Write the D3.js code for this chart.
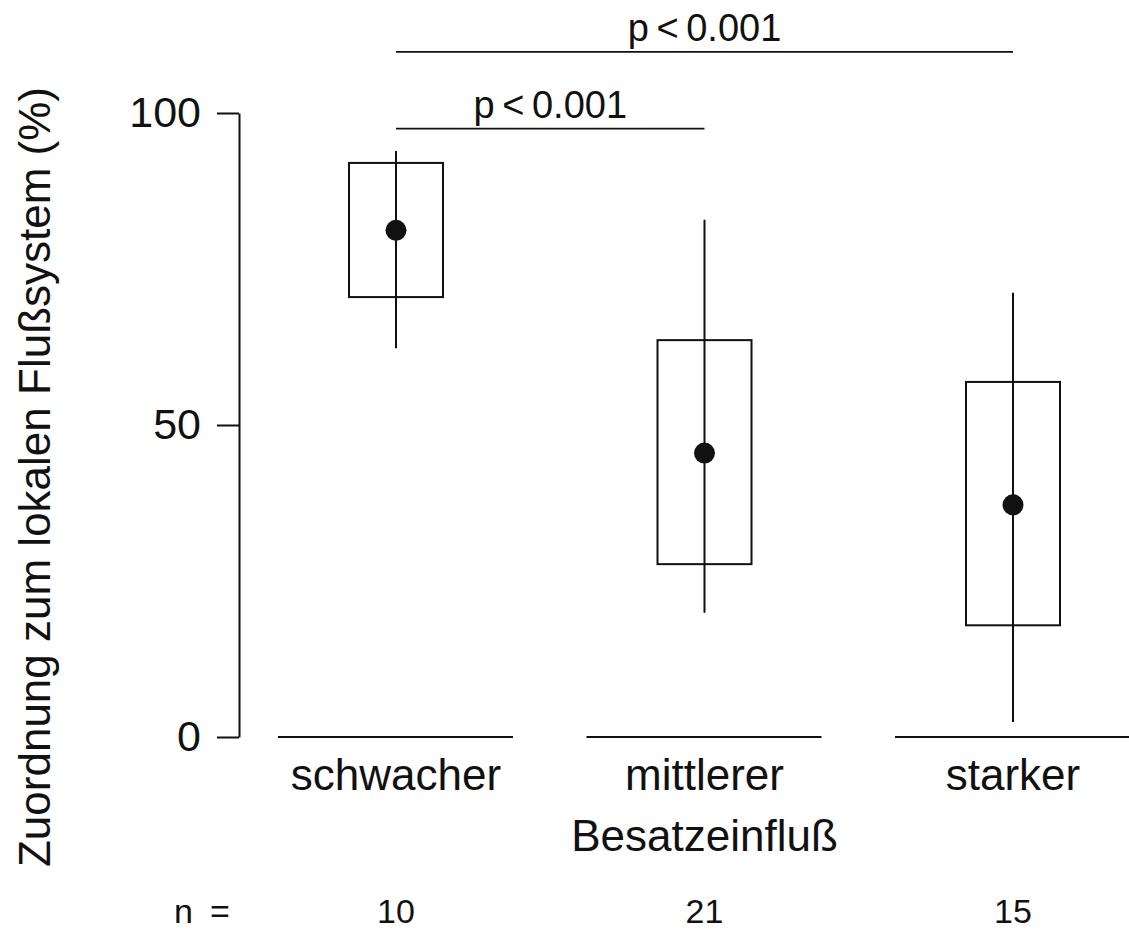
<!DOCTYPE html>
<html lang="de">
<head>
    <meta charset="UTF-8">
    <title>Zuordnung zum lokalen Flußsystem</title>
    <script src="https://d3js.org/d3.v7.min.js"></script>
    <style>
        body { margin: 0; background: #fff; }
        svg text { font-family: "Liberation Sans", Arial, sans-serif; fill: #111; }
    </style>
</head>
<body>
    <svg width="1129" height="929"></svg>

    <script>
        // Data
        const categories = ["schwacher", "mittlerer", "starker"];
        const nValues = [10, 21, 15];
        const means = [81.2, 45.5, 37.2];
        const boxLow = [70.5, 27.7, 17.9];
        const boxHigh = [92.0, 63.6, 56.9];
        const whiskerLow = [62.3, 19.9, 2.4];
        const whiskerHigh = [93.9, 82.9, 71.2];
        const yTicks = [0, 50, 100];
        // significance brackets: [from, to, level, label]
        const brackets = [
            ["schwacher", "mittlerer", 97.5, "p\u2009<\u20090.001"],
            ["schwacher", "starker", 109.8, "p\u2009<\u20090.001"]
        ];

        const svg = d3.select("svg");

        const x = d3.scalePoint()
            .domain(categories)
            .range([396, 1013]);

        const y = d3.scaleLinear()
            .domain([0, 100])
            .range([737, 113]);

        const axisX = 239;
        const ink = "#111";

        // y axis
        const yAxis = svg.append("g")
            .attr("transform", `translate(${axisX},0)`)
            .call(d3.axisLeft(y).tickValues(yTicks).tickSize(22).tickPadding(16).tickSizeOuter(0));
        yAxis.select(".domain").attr("stroke", ink).attr("stroke-width", 2);
        yAxis.selectAll(".tick line").attr("stroke", ink).attr("stroke-width", 2);
        yAxis.selectAll(".tick text")
            .style("font-size", "43px")
            .style("font-family", "Liberation Sans, Arial, sans-serif")
            .attr("fill", ink);

        // y axis label
        svg.append("text")
            .attr("transform", `translate(50,477) rotate(-90)`)
            .attr("text-anchor", "middle")
            .style("font-size", "44px")
            .text("Zuordnung zum lokalen Flußsystem (%)");

        const data = categories.map((c, i) => ({
            cat: c, n: nValues[i], mean: means[i],
            lo: boxLow[i], hi: boxHigh[i], wlo: whiskerLow[i], whi: whiskerHigh[i]
        }));

        // baseline segments under each group
        svg.selectAll(".base")
            .data(data)
            .enter().append("line")
            .attr("x1", d => x(d.cat) - 118)
            .attr("x2", d => x(d.cat) + 117)
            .attr("y1", y(0)).attr("y2", y(0))
            .attr("stroke", ink).attr("stroke-width", 2);

        // whiskers
        svg.selectAll(".whisker")
            .data(data)
            .enter().append("line")
            .attr("x1", d => x(d.cat)).attr("x2", d => x(d.cat))
            .attr("y1", d => y(d.whi)).attr("y2", d => y(d.wlo))
            .attr("stroke", ink).attr("stroke-width", 2);

        // boxes
        svg.selectAll(".box")
            .data(data)
            .enter().append("rect")
            .attr("x", d => x(d.cat) - 47)
            .attr("width", 94)
            .attr("y", d => y(d.hi))
            .attr("height", d => y(d.lo) - y(d.hi))
            .attr("fill", "none")
            .attr("stroke", ink).attr("stroke-width", 2);

        // mean dots
        svg.selectAll(".dot")
            .data(data)
            .enter().append("circle")
            .attr("cx", d => x(d.cat))
            .attr("cy", d => y(d.mean))
            .attr("r", 10.5)
            .attr("fill", ink);

        // category labels
        svg.selectAll(".cat")
            .data(data)
            .enter().append("text")
            .attr("x", d => x(d.cat))
            .attr("y", 790)
            .attr("text-anchor", "middle")
            .style("font-size", "44px")
            .text(d => d.cat);

        // x axis title
        svg.append("text")
            .attr("x", x("mittlerer"))
            .attr("y", 851)
            .attr("text-anchor", "middle")
            .style("font-size", "44px")
            .text("Besatzeinfluß");

        // sample sizes
        svg.append("text")
            .attr("x", 202)
            .attr("y", 923)
            .attr("text-anchor", "middle")
            .style("font-size", "34px")
            .text("n\u2002=");
        svg.selectAll(".n")
            .data(data)
            .enter().append("text")
            .attr("x", d => x(d.cat))
            .attr("y", 923)
            .attr("text-anchor", "middle")
            .style("font-size", "34px")
            .text(d => d.n);

        // significance brackets
        brackets.forEach(([a, b, lvl, label]) => {
            svg.append("line")
                .attr("x1", x(a)).attr("x2", x(b))
                .attr("y1", y(lvl)).attr("y2", y(lvl))
                .attr("stroke", ink).attr("stroke-width", 1.6);
            svg.append("text")
                .attr("x", (x(a) + x(b)) / 2)
                .attr("y", y(lvl) - 11)
                .attr("text-anchor", "middle")
                .style("font-size", "38px")
                .text(label);
        });
    </script>
</body>
</html>
